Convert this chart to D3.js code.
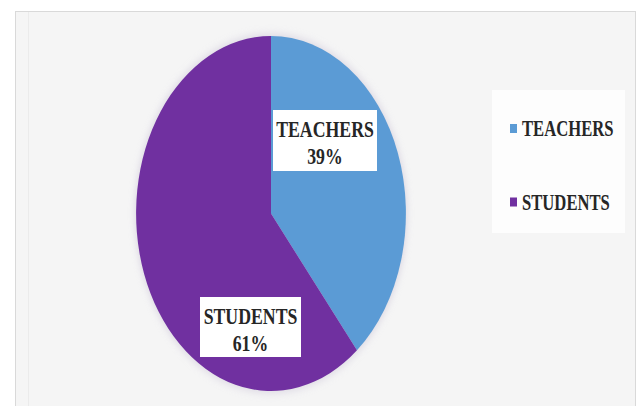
<!DOCTYPE html>
<html>
<head>
<meta charset="utf-8">
<script src="https://cdn.jsdelivr.net/npm/d3@7"></script>
<style>
  html, body { margin: 0; padding: 0; background: #ffffff; }
  svg { display: block; }
</style>
</head>
<body>
<svg id="chart" width="638" height="406"></svg>
<script>
// Share of respondents by group
const categories = ["TEACHERS", "STUDENTS"];
const shares = [39, 61];

const W = 638, H = 406;
const svg = d3.select("#chart");

const colour = d3.scaleOrdinal().domain(categories).range(["#5b9bd5", "#7030a0"]);

// chart area frame
svg.append("rect")
  .attr("x", 15.5).attr("y", 11.5)
  .attr("width", 620).attr("height", 410)
  .attr("fill", "#f5f5f5")
  .attr("stroke", "#d9d9d9");
svg.append("line")
  .attr("x1", 28.5).attr("x2", 28.5).attr("y1", 12).attr("y2", H)
  .attr("stroke", "#ebebeb");

// pie geometry: drawn as a circle, squeezed horizontally
const cx = 271, cy = 213.5, R = 177.5, squeeze = 0.76;

const defs = svg.append("defs");
const f = defs.append("filter").attr("id", "soft").attr("x", "-20%").attr("y", "-20%")
  .attr("width", "140%").attr("height", "140%");
f.append("feGaussianBlur").attr("stdDeviation", 4);

const pieG = svg.append("g")
  .attr("transform", `translate(${cx},${cy}) scale(${squeeze},1)`);

// soft halo around the pie
pieG.append("circle")
  .attr("r", R + 2)
  .attr("fill", "#c9c2d6")
  .attr("opacity", 0.55)
  .attr("filter", "url(#soft)");

const pie = d3.pie().sort(null).value(d => d.value);
const arcs = pie(categories.map((c, i) => ({ cat: c, value: shares[i] })));
const arc = d3.arc().innerRadius(0).outerRadius(R);

pieG.selectAll("path.slice")
  .data(arcs)
  .join("path")
  .attr("class", "slice")
  .attr("d", arc)
  .attr("fill", d => colour(d.data.cat));

// data labels (boxed), placed on each slice
const textSqueeze = 0.74;
const labelLayout = {
  TEACHERS: { x: 273, y: 110, w: 104, h: 61 },
  STUDENTS: { x: 200, y: 297, w: 101, h: 60 }
};

arcs.forEach(d => {
  const L = labelLayout[d.data.cat];
  const g = svg.append("g");
  g.append("rect")
    .attr("x", L.x).attr("y", L.y)
    .attr("width", L.w).attr("height", L.h)
    .attr("fill", "#ffffff");
  const mx = L.x + L.w / 2;
  [d.data.cat, d.data.value + "%"].forEach((t, k) => {
    g.append("text")
      .attr("transform", `translate(${mx},${L.y + 27 + k * 26.5}) scale(${textSqueeze},1)`)
      .attr("text-anchor", "middle")
      .attr("font-family", "'Liberation Serif', 'Times New Roman', serif")
      .attr("font-weight", "bold")
      .attr("font-size", 24)
      .attr("fill", "#262626")
      .text(t);
  });
});

// legend
svg.append("rect")
  .attr("x", 492).attr("y", 90)
  .attr("width", 133).attr("height", 143)
  .attr("fill", "#fdfdfd");

const legend = svg.append("g");
categories.forEach((c, i) => {
  const yMid = 128.5 + i * 73.5;
  legend.append("rect")
    .attr("x", 510).attr("y", yMid - 4.5)
    .attr("width", 7).attr("height", 9)
    .attr("fill", colour(c));
  legend.append("text")
    .attr("transform", `translate(522,${yMid + 7.5}) scale(${textSqueeze},1)`)
    .attr("font-family", "'Liberation Serif', 'Times New Roman', serif")
    .attr("font-weight", "bold")
    .attr("font-size", 22.5)
    .attr("fill", "#262626")
    .text(c);
});
</script>
</body>
</html>
